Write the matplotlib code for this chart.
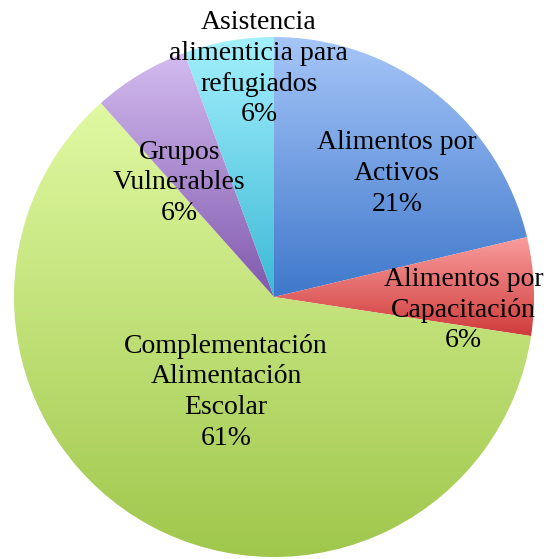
import numpy as np
import matplotlib
matplotlib.use('Agg')
import matplotlib.pyplot as plt
from matplotlib.colors import LinearSegmentedColormap

labels = ['Alimentos por\nActivos', 'Alimentos por\nCapacitación',
          'Complementación\nAlimentación\nEscolar', 'Grupos\nVulnerables',
          'Asistencia\nalimenticia para\nrefugiados']
values = [21.3, 6.1, 61.0, 6.0, 5.6]

# light (top) -> dark (bottom) for each slice
top_colors = ['#a6c6f8', '#fa9d9d', '#e0f9a2', '#d4bcf0', '#a4f0fd']
bottom_colors = ['#3f78cb', '#cf3b3b', '#a0c74c', '#8058ad', '#3cb9d6']

# label placement: (fraction of radius, angle shift in degrees)
label_pos = [(0.67, -6.5), (0.73, -6.3), (0.41, 1.8), (0.57, 8.7), (0.88, -6.3)]

fig = plt.figure(figsize=(5.52, 5.59), dpi=100)
ax = fig.add_axes([0, 0, 1, 1])

wedges, _ = ax.pie(values, startangle=90, counterclock=False,
                   radius=1, center=(0, 0), frame=True)

total = sum(values)
for i, w in enumerate(wedges):
    w.set_facecolor('none')
    w.set_edgecolor('none')
    verts = w.get_path().vertices
    y0, y1 = verts[:, 1].min(), verts[:, 1].max()
    x0, x1 = verts[:, 0].min(), verts[:, 0].max()
    cmap = LinearSegmentedColormap.from_list('g%d' % i, [bottom_colors[i], top_colors[i]])
    grad = np.linspace(0, 1, 256).reshape(-1, 1)
    im = ax.imshow(grad, cmap=cmap, extent=(x0, x1, y0, y1), origin='lower',
                   aspect='auto', zorder=1, interpolation='bicubic')
    im.set_clip_path(w)

    mid = np.deg2rad((w.theta1 + w.theta2) / 2 + label_pos[i][1])
    r = label_pos[i][0]
    pct = round(100 * values[i] / total)
    ax.text(r * np.cos(mid), r * np.sin(mid), '%s\n%d%%' % (labels[i], pct),
            ha='center', va='center', fontsize=20, family='Liberation Serif',
            linespacing=1.3, zorder=3)

ax.set_xlim(-274 / 260, (552 - 274) / 260)
ax.set_ylim(-(559 - 297) / 260, 297 / 260)
ax.set_aspect('auto')
ax.axis('off')

plt.savefig('out.png', dpi=100)
